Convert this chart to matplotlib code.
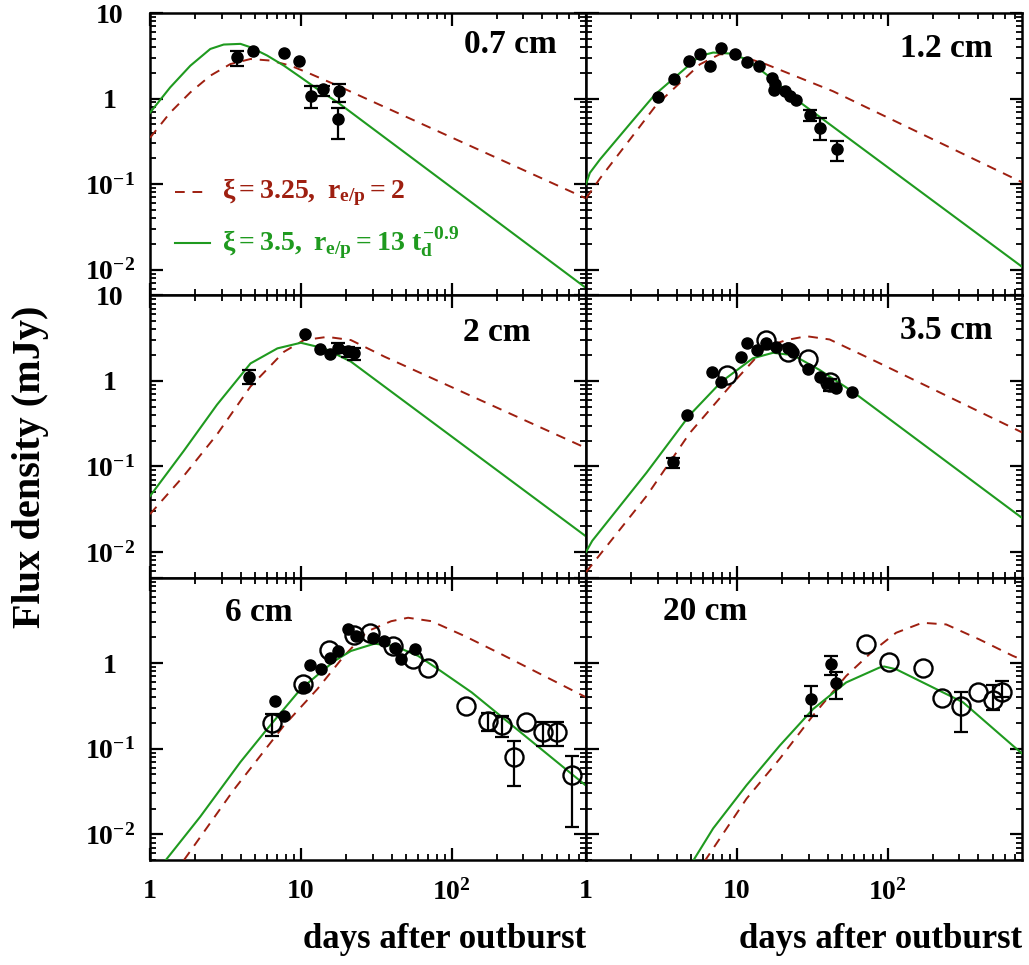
import matplotlib
matplotlib.use('Agg')
import matplotlib.pyplot as plt
import numpy as np

nan = np.nan

# ---- 0.7 cm ----
t07 = [3.8, 4.8, 7.7, 9.8, 11.7, 14.0, 17.9, 17.6]
f07 = [3.04, 3.57, 3.38, 2.72, 1.08, 1.31, 1.21, 0.57]
lo07 = [2.38, nan, nan, nan, 0.78, 1.06, 0.92, 0.34]
hi07 = [3.57, nan, nan, nan, 1.42, 1.42, 1.46, 0.78]
g07_t = [1, 1.36, 1.85, 2.51, 3.08, 3.98, 4.64, 5.99, 7.74, 10, 12.9, 17.6, 780]
g07_f = [0.684, 1.35, 2.42, 3.80, 4.28, 4.36, 3.98, 3.18, 2.42, 1.77, 1.29, 0.90, 0.0061]
r07_t = [1, 1.36, 1.85, 2.51, 3.41, 4.64, 6.31, 8.58, 11.7, 17.6, 780]
r07_f = [0.348, 0.684, 1.18, 1.85, 2.53, 2.9, 2.78, 2.42, 1.93, 1.41, 0.068]

# ---- 1.2 cm ----
t12 = [3.01, 3.83, 4.81, 5.69, 6.62, 7.92, 9.8, 11.7, 14.1, 17.1, 18.0, 17.7, 20.9, 22.7, 24.9, 30.7, 35.8, 46.2]
f12 = [1.05, 1.70, 2.75, 3.36, 2.40, 3.95, 3.36, 2.67, 2.40, 1.72, 1.46, 1.25, 1.22, 1.06, 0.97, 0.65, 0.45, 0.256]
lo12 = [nan] * 15 + [0.54, 0.33, 0.188]
hi12 = [nan] * 15 + [0.74, 0.59, 0.32]
g12_t = [1, 1.06, 1.24, 2, 2.86, 4, 5.69, 6.97, 9.0, 11.6, 17.4, 24.9, 780]
g12_f = [0.10, 0.135, 0.195, 0.53, 1.11, 1.85, 3.15, 3.45, 3.36, 2.88, 1.67, 0.97, 0.0108]
r12_t = [1, 1.24, 2, 2.94, 5.69, 7.7, 9.8, 15.7, 26.1, 43.4, 780]
r12_f = [0.068, 0.117, 0.35, 0.85, 2.51, 3.29, 3.29, 2.51, 1.75, 1.22, 0.105]

# ---- 2 cm ----
t20 = [4.52, 10.6, 13.4, 15.7, 17.7, 20.5, 22.7]
f20 = [1.10, 3.52, 2.34, 2.06, 2.40, 2.25, 2.10]
lo20 = [0.92, nan, nan, nan, 2.12, 1.92, 1.75]
hi20 = [1.34, nan, nan, nan, 2.77, 2.50, 2.42]
g20_t = [1, 1.67, 2.78, 4.64, 7.0, 10, 14.3, 21.5, 780]
g20_f = [0.045, 0.151, 0.526, 1.60, 2.40, 2.79, 2.40, 1.68, 0.0152]
r20_t = [1, 1.67, 2.78, 4.64, 7.74, 10.5, 15, 21.5, 35.9, 780]
r20_f = [0.0277, 0.077, 0.236, 0.86, 2.19, 3.0, 3.27, 3.0, 1.92, 0.164]

# ---- 3.5 cm ----
t35 = [3.79, 4.71, 6.8, 7.92, 10.7, 11.7, 13.7, 15.7, 18.1, 21.9, 23.6, 29.7, 35.8, 40.3, 45.7, 58.3]
f35 = [0.112, 0.395, 1.28, 0.98, 1.88, 2.74, 2.29, 2.74, 2.51, 2.40, 2.19, 1.37, 1.12, 0.94, 0.82, 0.75]
lo35 = [0.097] + [nan] * 15
hi35 = [0.126] + [nan] * 15
o35_t = [8.55, 15.6, 21.9, 29.7, 41.3]
o35_f = [1.17, 3.0, 2.19, 1.79, 0.98]
o35_lo = [nan, nan, nan, nan, 0.76]
o35_hi = [nan, nan, nan, nan, 1.05]
g35_t = [1, 1.1, 2.52, 4.88, 7.92, 12.8, 17.4, 23.6, 35.5, 58.6, 780]
g35_f = [0.010, 0.0135, 0.0845, 0.40, 0.98, 1.84, 2.13, 2.0, 1.34, 0.75, 0.025]
r35_t = [1, 2.52, 4.88, 8.99, 15.6, 21.3, 29, 41.3, 88.5, 780]
r35_f = [0.0058, 0.045, 0.246, 0.86, 2.5, 3.0, 3.33, 3.05, 1.61, 0.25]

# ---- 6 cm ----
t60 = [6.71, 7.74, 10.5, 11.5, 13.6, 15.7, 17.7, 20.7, 23.3, 30.0, 35.9, 42.4, 46.4, 57.5]
f60 = [0.365, 0.244, 0.52, 0.95, 0.85, 1.16, 1.39, 2.53, 2.08, 1.95, 1.82, 1.52, 1.13, 1.45]
o60_t = [6.47, 10.3, 15.3, 22.4, 28.6, 40.8, 55.5, 69.9, 124, 174, 215, 260, 313, 402, 501, 625]
o60_f = [0.20, 0.57, 1.43, 2.12, 2.23, 1.59, 1.11, 0.87, 0.318, 0.213, 0.187, 0.080, 0.204, 0.159, 0.159, 0.049]
o60_lo = [0.14, nan, nan, nan, nan, nan, nan, nan, nan, 0.163, 0.137, 0.037, nan, 0.109, 0.109, 0.0123]
o60_hi = [0.255, nan, nan, nan, nan, nan, nan, nan, nan, 0.26, 0.244, 0.122, nan, 0.204, 0.204, 0.083]
g60_t = [1.25, 2.15, 3.98, 6.0, 10, 16.7, 21.5, 30.8, 41.9, 59.9, 81.6, 136, 780]
g60_f = [0.0048, 0.016, 0.070, 0.171, 0.50, 1.06, 1.39, 1.69, 1.59, 1.22, 0.85, 0.456, 0.037]
r60_t = [1.68, 3.59, 7.74, 12.9, 19.4, 27.8, 39.8, 51.5, 73.6, 122, 215, 780]
r60_f = [0.0050, 0.033, 0.187, 0.50, 1.22, 2.37, 3.10, 3.40, 3.10, 2.08, 1.27, 0.40]

# ---- 20 cm ----
t200 = [30.9, 42.4, 45.7]
f200 = [0.381, 0.97, 0.58]
lo200 = [0.244, 0.725, 0.381]
hi200 = [0.536, 1.2, 0.78]
o200_t = [71.5, 103, 171, 230, 307, 396, 498, 574]
o200_f = [1.66, 1.02, 0.89, 0.389, 0.314, 0.464, 0.374, 0.464]
o200_lo = [nan, nan, nan, nan, 0.159, nan, 0.287, 0.399]
o200_hi = [nan, nan, nan, nan, 0.464, nan, 0.555, 0.618]
g200_t = [5.1, 6.97, 11.6, 19.3, 32, 53.2, 88.5, 95, 114, 190, 317, 677, 780]
g200_f = [0.0048, 0.0117, 0.0374, 0.109, 0.29, 0.596, 0.89, 0.915, 0.85, 0.545, 0.349, 0.109, 0.088]
r200_t = [6.1, 11.6, 19.3, 32, 53.2, 80, 114, 170, 245, 406, 677, 780]
r200_f = [0.0048, 0.026, 0.0765, 0.244, 0.71, 1.39, 2.27, 2.97, 2.84, 1.90, 1.22, 1.10]

ytick_vals = [10, 1, 0.1, 0.01]
ytick_labels = ['10', '1', r'$10^{-1}$', r'$10^{-2}$']
xtick_vals = [1, 10, 100]
xtick_labels = ['1', '10', r'$10^{2}$']

plt.rcParams['font.family'] = ['Liberation Serif', 'DejaVu Serif']
plt.rcParams['font.weight'] = 'bold'
plt.rcParams['mathtext.fontset'] = 'custom'
plt.rcParams['mathtext.rm'] = 'Liberation Serif:bold'
plt.rcParams['mathtext.it'] = 'Liberation Serif:bold'
plt.rcParams['mathtext.bf'] = 'Liberation Serif:bold'

RED = '#9e1f10'
GREEN = '#1f9a1f'


def draw_errs(ax, t, f, lo, hi):
    t = np.array(t); f = np.array(f); lo = np.array(lo); hi = np.array(hi)
    m = np.isfinite(lo)
    if m.any():
        ax.errorbar(t[m], f[m], yerr=[f[m] - lo[m], hi[m] - f[m]], fmt='none',
                    ecolor='black', elinewidth=1.6, capsize=5, capthick=1.6, zorder=4)


def filled(ax, t, f, lo=None, hi=None):
    ax.plot(t, f, 'o', color='black', ms=8, zorder=5)
    if lo is not None:
        draw_errs(ax, t, f, lo, hi)


def hollow(ax, t, f, lo=None, hi=None):
    ax.plot(t, f, 'o', mfc='none', mec='black', mew=1.7, ms=13, zorder=5)
    if lo is not None:
        draw_errs(ax, t, f, lo, hi)


fig, axes = plt.subplots(3, 2, figsize=(10.29, 9.65), dpi=100)
fig.subplots_adjust(left=0.1458, right=0.9932, top=0.9865, bottom=0.1088,
                    wspace=0, hspace=0)

curves = [(g07_t, g07_f, r07_t, r07_f), (g12_t, g12_f, r12_t, r12_f),
          (g20_t, g20_f, r20_t, r20_f), (g35_t, g35_f, r35_t, r35_f),
          (g60_t, g60_f, r60_t, r60_f), (g200_t, g200_f, r200_t, r200_f)]
names = ['0.7 cm', '1.2 cm', '2 cm', '3.5 cm', '6 cm', '20 cm']
name_pos = [(0.826, 0.887), (0.826, 0.876), (0.796, 0.869),
            (0.826, 0.876), (0.25, 0.876), (0.273, 0.88)]

for i, ax in enumerate(axes.flat):
    gt, gf, rt, rf = curves[i]
    ax.plot(rt, rf, color=RED, lw=1.4, dashes=(5, 4), zorder=3)
    ax.plot(gt, gf, color=GREEN, lw=1.5, zorder=3)
    ax.set_xscale('log')
    ax.set_yscale('log')
    ax.set_xlim(1, 780)
    ax.set_ylim(0.005, 10)
    ax.text(name_pos[i][0], name_pos[i][1], names[i], transform=ax.transAxes,
            ha='center', va='center', fontsize=24, fontweight='bold')
    ax.tick_params(which='both', direction='in', top=True, right=True)
    ax.tick_params(which='major', length=9, width=1.6)
    ax.tick_params(which='minor', length=4.5, width=1.3)
    for s in ax.spines.values():
        s.set_linewidth(1.8)
    ax.set_xticks(xtick_vals)
    ax.set_yticks(ytick_vals)
    ax.yaxis.set_minor_formatter(matplotlib.ticker.NullFormatter())
    ax.xaxis.set_minor_formatter(matplotlib.ticker.NullFormatter())
    row, col = divmod(i, 2)
    if col == 0:
        labs = list(ytick_labels)
        if row == 2:
            labs[0] = ''
        ax.set_yticklabels(labs, fontsize=20)
        ax.tick_params(axis='y', which='major', pad=29)
        for lb in ax.get_yticklabels():
            lb.set_ha('center')
    else:
        ax.set_yticklabels([])
    if row == 2:
        ax.set_xticklabels(xtick_labels, fontsize=20)
        ax.tick_params(axis='x', which='major', pad=14)
        ax.set_xlabel('days after outburst', fontsize=25, fontweight='bold',
                      loc='right', labelpad=12)
    else:
        ax.set_xticklabels([])

# data points
filled(axes[0, 0], t07, f07, lo07, hi07)
filled(axes[0, 1], t12, f12, lo12, hi12)
filled(axes[1, 0], t20, f20, lo20, hi20)
filled(axes[1, 1], t35, f35, lo35, hi35)
hollow(axes[1, 1], o35_t, o35_f, o35_lo, o35_hi)
hollow(axes[2, 0], o60_t, o60_f, o60_lo, o60_hi)
filled(axes[2, 0], t60, f60)
filled(axes[2, 1], t200, f200, lo200, hi200)
hollow(axes[2, 1], o200_t, o200_f, o200_lo, o200_hi)

# legend drawn by hand in first panel
ax = axes[0, 0]
ax.plot([0.057, 0.138], [0.365, 0.365], transform=ax.transAxes,
        color=RED, lw=1.4, dashes=(5, 4))
ax.plot([0.057, 0.138], [0.184, 0.184], transform=ax.transAxes,
        color=GREEN, lw=1.5)
ax.text(0.165, 0.365, r'$\xi = 3.25,\ r_{e/p} = 2$', transform=ax.transAxes,
        color=RED, fontsize=20, va='center', ha='left')
ax.text(0.165, 0.184, r'$\xi = 3.5,\ r_{e/p} = 13\ t_{d}^{-0.9}$',
        transform=ax.transAxes, color=GREEN, fontsize=20, va='center', ha='left')

fig.text(0.03, 1 - 467 / 965, 'Flux density (mJy)', rotation=90,
         ha='center', va='center', fontsize=29, fontweight='bold')

fig.savefig('out.png', dpi=100)
